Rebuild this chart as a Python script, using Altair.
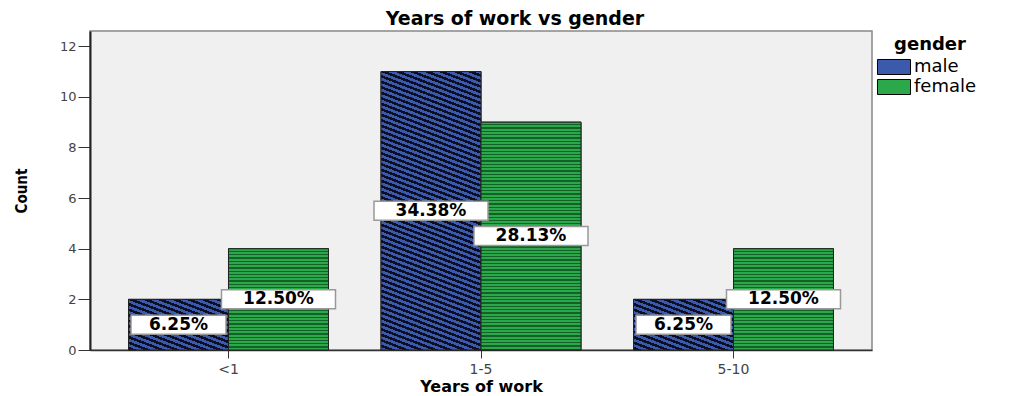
import altair as alt
import pandas as pd

# ---- data ----
categories = ["<1", "1-5", "5-10"]
genders = ["male", "female"]
male_counts = [2, 11, 2]
female_counts = [4, 9, 4]
male_labels = ["6.25%", "34.38%", "6.25%"]
female_labels = ["12.50%", "28.13%", "12.50%"]
y_ticks = [0, 2, 4, 6, 8, 10, 12]

rows = []
for c, m, f, ml, fl in zip(categories, male_counts, female_counts, male_labels, female_labels):
    rows.append({"category": c, "gender": "male", "count": m, "label": ml})
    rows.append({"category": c, "gender": "female", "count": f, "label": fl})
df = pd.DataFrame(rows)

# ---- styling ----
BLUE = "#3c5aac"
BLUE_LINE = "#0c0f24"
GREEN = "#2aa84a"
GREEN_LINE = "#136128"
PLOT_W, PLOT_H = 782, 319
Y_MAX = 12.6
PX_PER_UNIT = PLOT_H / Y_MAX
BAR_W = 100


def diag_gradient(h, w=BAR_W, s=0.38, period=5.5, frac=0.52):
    k = (h + s * w) / (s * s * w * w + h * h)
    n = (h + s * w) / period
    stops = []
    i = 0
    while i < n:
        a = i / n
        b = min((i + frac) / n, 1.0)
        c = min((i + 1) / n, 1.0)
        stops += [(a, BLUE), (b, BLUE), (b, BLUE_LINE), (c, BLUE_LINE)]
        i += 1
    return {"gradient": "linear", "x1": 1, "y1": 0, "x2": 1 - k * s * w, "y2": k * h,
            "stops": [{"offset": o, "color": col} for o, col in stops]}


def horiz_gradient(h, period=3.3, frac=0.6):
    n = h / period
    stops = []
    i = 0
    while i < n:
        a = i / n
        b = min((i + frac) / n, 1.0)
        c = min((i + 1) / n, 1.0)
        stops += [(a, GREEN), (b, GREEN), (b, GREEN_LINE), (c, GREEN_LINE)]
        i += 1
    return {"gradient": "linear", "x1": 0, "y1": 0, "x2": 0, "y2": 1,
            "stops": [{"offset": o, "color": col} for o, col in stops]}


x_enc = alt.X("category:N", sort=categories,
              scale=alt.Scale(paddingInner=0.208, paddingOuter=0.1525),
              axis=alt.Axis(title="Years of work", labelAngle=0, labelFontSize=14,
                            labelColor="#444", labelFont="DejaVu Sans", labelPadding=4,
                            tickColor="#333", tickSize=8, domainColor="#333", domainWidth=1.5,
                            titleFont="DejaVu Sans", titleFontSize=16, titleFontWeight="bold",
                            titleColor="black", titlePadding=2))
xo_enc = alt.XOffset("gender:N", sort=genders, scale=alt.Scale(domain=genders))
y_enc = alt.Y("count:Q", scale=alt.Scale(domain=[0, Y_MAX], nice=False, zero=True),
              axis=alt.Axis(title="Count", values=y_ticks, grid=False, labelFontSize=13,
                            labelColor="#444", labelFont="DejaVu Sans", labelPadding=2,
                            tickSize=12, tickColor="#333", domainColor="#222", domainWidth=2,
                            titleFont="DejaVu Sans Condensed", titleFontWeight="bold",
                            titleFontSize=15, titleColor="black", titleX=-61))

base = alt.Chart(df)

bars = base.mark_bar(stroke="#222", strokeWidth=1).encode(
    x=x_enc, xOffset=xo_enc, y=y_enc,
    color=alt.Color("gender:N", scale=alt.Scale(domain=genders, range=[BLUE, GREEN]),
                    legend=alt.Legend(title="gender", orient="right", offset=7, padding=5,
                                      titleFont="DejaVu Sans", titleFontSize=18,
                                      titleFontWeight="bold", titleColor="black",
                                      titleAnchor="middle", titlePadding=3,
                                      labelFont="DejaVu Sans", labelFontSize=18,
                                      labelColor="black", labelOffset=10,
                                      symbolType="M-1.74,-0.79L1.74,-0.79L1.74,0.79L-1.74,0.79Z",
                                      symbolSize=361, symbolStrokeColor="black",
                                      symbolStrokeWidth=1, symbolOpacity=1, rowPadding=0)),
)

layers = [bars]
seen = set()
for g, counts in (("male", male_counts), ("female", female_counts)):
    for v in counts:
        if (g, v) in seen:
            continue
        seen.add((g, v))
        h = v * PX_PER_UNIT
        grad = diag_gradient(h) if g == "male" else horiz_gradient(h)
        layers.append(
            base.transform_filter(f"datum.gender == '{g}' && datum.count == {v}")
            .mark_bar(fill=grad, stroke="#222", strokeWidth=1)
            .encode(x=x_enc, xOffset=xo_enc, y=y_enc)
        )

# label boxes
lab = base.transform_calculate(mid="datum.count / 2", n="length(datum.label)")
box_short = lab.transform_filter("datum.n <= 5").mark_point(
    shape="M-1,-0.2L1,-0.2L1,0.2L-1,0.2Z", size=9025, filled=True,
    fill="white", stroke="#999", strokeWidth=1.5, opacity=1
).encode(x=x_enc, xOffset=xo_enc, y=alt.Y("mid:Q"))
box_long = lab.transform_filter("datum.n > 5").mark_point(
    shape="M-1,-0.1667L1,-0.1667L1,0.1667L-1,0.1667Z", size=12996, filled=True,
    fill="white", stroke="#999", strokeWidth=1.5, opacity=1
).encode(x=x_enc, xOffset=xo_enc, y=alt.Y("mid:Q"))
texts = lab.mark_text(font="DejaVu Sans", fontSize=17, fontWeight="bold", color="black",
                      align="center", baseline="middle").encode(
    x=x_enc, xOffset=xo_enc, y=alt.Y("mid:Q"), text="label:N")

layers += [box_short, box_long, texts]

chart = alt.layer(*layers).properties(
    width=PLOT_W, height=PLOT_H,
    title=alt.Title("Years of work vs gender", font="DejaVu Sans", fontSize=19,
                    fontWeight="bold", color="black", anchor="middle", dx=34, offset=2),
    autosize=alt.AutoSizeParams(type="none"),
    padding={"left": 82, "top": 23, "right": 143, "bottom": 45},
).configure_view(fill="#f0f0f0", stroke="#888", strokeWidth=1.5)

chart.save("out.html", embed_options={"renderer": "svg", "actions": False})
